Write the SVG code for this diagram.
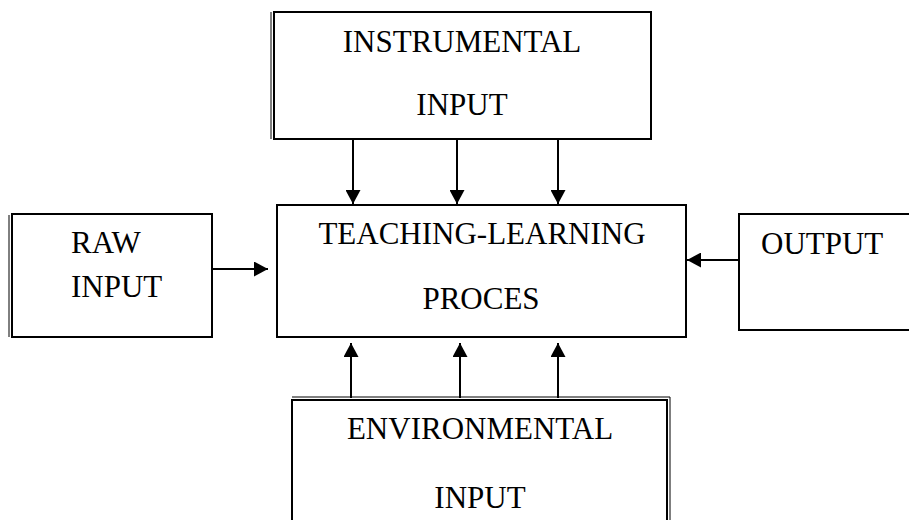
<svg xmlns="http://www.w3.org/2000/svg" width="909" height="520" viewBox="0 0 909 520">
<style>
.box{fill:#fff;stroke:#000;stroke-width:2}
.thin{stroke:#000;stroke-width:1;fill:none}
.lbl{font-family:"Liberation Serif","Times New Roman",serif;font-size:31px;fill:#000}
.c{text-anchor:middle}
.conn line{stroke:#000;stroke-width:2;marker-end:url(#ah)}
</style>
<defs>
<marker id="ah" viewBox="0 0 14 15" refX="14" refY="7.5" markerWidth="14" markerHeight="15" markerUnits="userSpaceOnUse" orient="auto">
<path d="M0,0 L14,7.5 L0,15 Z" fill="#000"/>
</marker>
</defs>
<rect width="909" height="520" fill="#fff"/>
<g id="instrumental">
<rect class="box" x="274" y="12" width="377" height="127"/>
<line class="thin" x1="271" y1="12" x2="271" y2="139"/>
<text class="lbl c" x="462" y="52">INSTRUMENTAL</text>
<text class="lbl c" x="462" y="115">INPUT</text>
</g>
<g id="process">
<rect class="box" x="277" y="205" width="409" height="132"/>
<text class="lbl c" x="482" y="244">TEACHING-LEARNING</text>
<text class="lbl c" x="481" y="309">PROCES</text>
</g>
<g id="raw">
<rect class="box" x="12" y="214" width="200" height="123"/>
<line class="thin" x1="9" y1="215" x2="9" y2="337"/>
<text class="lbl" x="71" y="253">RAW</text>
<text class="lbl" x="71" y="297">INPUT</text>
</g>
<g id="output">
<rect class="box" x="739" y="214" width="180" height="116"/>
<text class="lbl" x="761" y="254">OUTPUT</text>
</g>
<g id="environmental">
<rect class="box" x="292" y="400" width="375" height="130"/>
<polyline class="thin" points="292,397 670,397 670,520"/>
<text class="lbl c" x="480" y="439">ENVIRONMENTAL</text>
<text class="lbl c" x="480" y="508">INPUT</text>
</g>
<g id="connectors" class="conn">
<line x1="353" y1="139" x2="353" y2="204"/>
<line x1="457" y1="139" x2="457" y2="204"/>
<line x1="558" y1="139" x2="558" y2="204"/>
<line x1="212" y1="269" x2="268" y2="269"/>
<line x1="739" y1="260" x2="687" y2="260"/>
<line x1="351" y1="398" x2="351" y2="343"/>
<line x1="460" y1="398" x2="460" y2="343"/>
<line x1="558" y1="398" x2="558" y2="343"/>
</g>
</svg>
